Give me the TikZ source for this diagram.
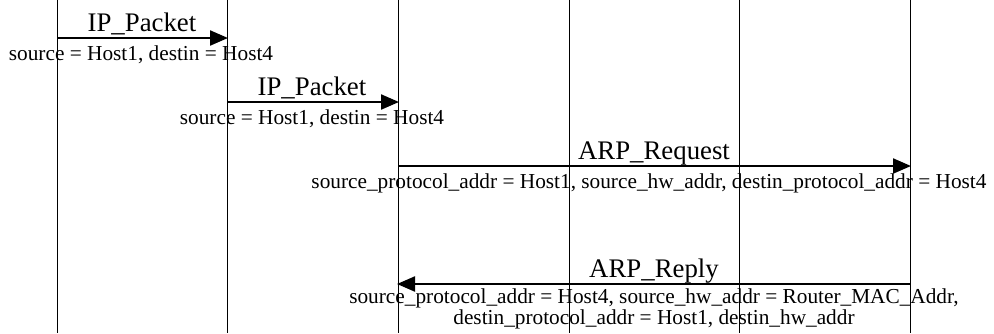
\documentclass[tikz,border=0pt]{standalone}
\usepackage{fontspec}
\setmainfont{Liberation Serif}
\usetikzlibrary{arrows.meta}
\begin{document}
\begin{tikzpicture}[x=1pt,y=-1pt,
  lifeline/.style={draw=black,line width=0.8pt},
  msg/.style={draw=black,line width=2.2pt,-{Triangle[length=18pt,width=15pt]},shorten >=-1pt},
  mainlbl/.style={font=\fontsize{26.8}{29}\selectfont,anchor=base,inner sep=0pt},
  sublbl/.style={font=\fontsize{21.3}{21}\selectfont,anchor=base,inner sep=0pt,align=center}]
\useasboundingbox (0,0) rectangle (994,333);
% lifelines
\foreach \i/\x in {1/57,2/227,3/398,4/569,5/739,6/910}{
  \coordinate (t\i) at (\x,0);
  \coordinate (b\i) at (\x,333);
  \draw[lifeline] (t\i) -- (b\i);
}
% message endpoints
\coordinate (m1s) at (57,38);  \coordinate (m1e) at (227,38);
\coordinate (m2s) at (227,102); \coordinate (m2e) at (398,102);
\coordinate (m3s) at (398,166); \coordinate (m3e) at (910,166);
\coordinate (m4s) at (910,284); \coordinate (m4e) at (398,284);
\draw[msg] (m1s) -- (m1e);
\draw[msg] (m2s) -- (m2e);
\draw[msg] (m3s) -- (m3e);
\draw[msg] (m4s) -- (m4e);
% labels
\node[mainlbl] (l1) at (142,31) {IP\_Packet};
\node[sublbl] (s1) at (141,60) {source = Host1, destin = Host4};
\node[mainlbl] (l2) at (312,95) {IP\_Packet};
\node[sublbl] (s2) at (312,124) {source = Host1, destin = Host4};
\node[mainlbl] (l3) at (654,159) {ARP\_Request};
\node[sublbl] (s3) at (649,188) {source\_protocol\_addr = Host1, source\_hw\_addr, destin\_protocol\_addr = Host4};
\node[mainlbl] (l4) at (654,277) {ARP\_Reply};
\node[sublbl,anchor=north] (s4) at (654,289) {source\_protocol\_addr = Host4, source\_hw\_addr = Router\_MAC\_Addr,\\destin\_protocol\_addr = Host1, destin\_hw\_addr};
\end{tikzpicture}
\end{document}
